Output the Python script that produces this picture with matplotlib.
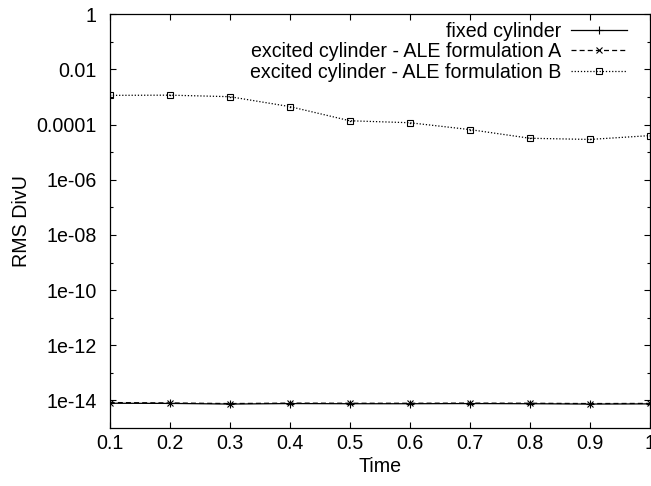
import matplotlib
matplotlib.use("Agg")
import matplotlib.pyplot as plt
import numpy as np

plt.rcParams['font.family'] = ['Liberation Sans', 'DejaVu Sans']

time = [0.1, 0.2, 0.3, 0.4, 0.5, 0.6, 0.7, 0.8, 0.9, 1.0]
fixed_cyl = [7.9e-15, 7.8e-15, 7.4e-15, 7.7e-15, 7.6e-15, 7.6e-15, 7.7e-15, 7.6e-15, 7.4e-15, 7.5e-15]
ale_a = [8.4e-15, 8.1e-15, 7.7e-15, 8.0e-15, 7.9e-15, 7.9e-15, 8.0e-15, 7.9e-15, 7.7e-15, 7.8e-15]
ale_b = [1.15e-3, 1.17e-3, 1.03e-3, 4.5e-4, 1.38e-4, 1.17e-4, 6.6e-5, 3.2e-5, 2.9e-5, 4.0e-5]

labels = ["fixed cylinder",
          "excited cylinder - ALE formulation A",
          "excited cylinder - ALE formulation B"]

x_ticks = [0.1, 0.2, 0.3, 0.4, 0.5, 0.6, 0.7, 0.8, 0.9, 1.0]
x_ticklabels = ["0.1", "0.2", "0.3", "0.4", "0.5", "0.6", "0.7", "0.8", "0.9", "1"]
y_ticks = [1, 1e-2, 1e-4, 1e-6, 1e-8, 1e-10, 1e-12, 1e-14]
y_ticklabels = ["1", "0.01", "0.0001", "1e-06", "1e-08", "1e-10", "1e-12", "1e-14"]
y_minor = [1e-1, 1e-3, 1e-5, 1e-7, 1e-9, 1e-11, 1e-13]

fs = 14.1
fig = plt.figure(figsize=(6.51, 4.86), dpi=100)
ax = fig.add_axes([0.1685, 0.1193, 0.83, 0.8513])

ax.plot(time, fixed_cyl, color='black', lw=0.9, marker='+', ms=6, mew=0.8,
        label=labels[0])
ax.plot(time, ale_a, color='black', lw=0.9, ls=(0, (4, 2.5)), marker='x', ms=4.5,
        mew=0.8, label=labels[1])
ax.plot(time, ale_b, color='black', lw=0.9, ls=(0, (1, 1.5)), marker='s', ms=5,
        mfc='none', mew=0.8, label=labels[2])
# centre dot of the box points
ax.plot(time, ale_b, ls='none', marker='s', ms=1, color='black', mew=0)

ax.set_yscale('log')
ax.set_xlim(0.1, 1.0)
ax.set_ylim(1e-15, 1)
ax.set_xticks(x_ticks)
ax.set_xticklabels(x_ticklabels)
ax.set_yticks(y_ticks)
ax.set_yticklabels(y_ticklabels)
ax.set_yticks(y_minor, minor=True)
ax.yaxis.set_minor_formatter(matplotlib.ticker.NullFormatter())

ax.tick_params(which='both', direction='in', top=True, right=True, labelsize=fs)
ax.tick_params(which='major', length=4.5, width=0.8)
ax.tick_params(which='minor', length=2.3, width=0.8)
ax.tick_params(axis='y', which='major', pad=9.5)
ax.tick_params(axis='x', which='major', pad=4)
for s in ax.spines.values():
    s.set_linewidth(0.9)

ax.set_xlabel("Time", fontsize=fs, labelpad=3)
ax.set_ylabel("RMS DivU", fontsize=fs, labelpad=4)

ax.legend(loc='upper right', bbox_to_anchor=(0.9574, 0.982), frameon=False,
          markerfirst=False, fontsize=fs, handlelength=2.85, handletextpad=0.5,
          labelspacing=0.08, borderaxespad=0, borderpad=0)

fig.savefig("out.png", dpi=100)
